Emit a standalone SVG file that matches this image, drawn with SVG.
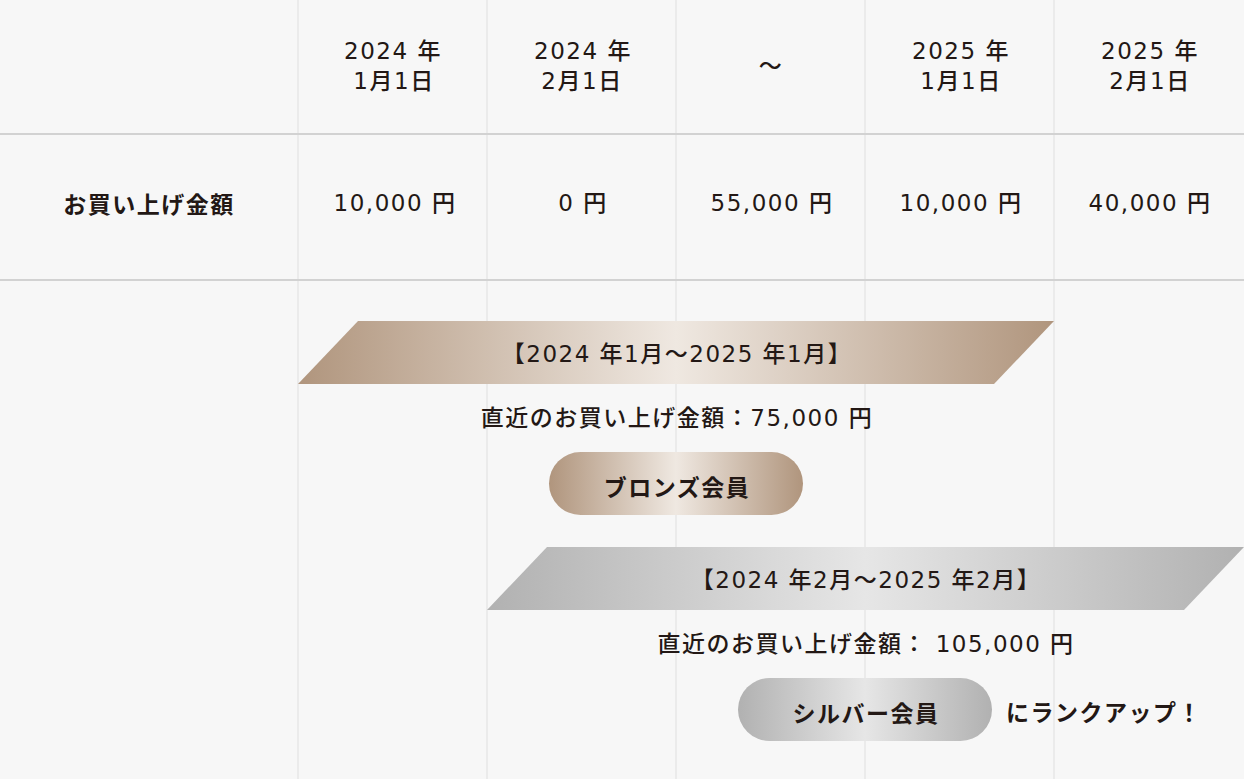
<svg xmlns="http://www.w3.org/2000/svg" width="1244" height="779" viewBox="0 0 1244 779">
<defs>
<linearGradient id="bronze" x1="0" y1="0" x2="1" y2="0">
<stop offset="0" stop-color="#b0957d"/>
<stop offset="0.5" stop-color="#efe8e1"/>
<stop offset="1" stop-color="#b0957d"/>
</linearGradient>
<linearGradient id="silver" x1="0" y1="0" x2="1" y2="0">
<stop offset="0" stop-color="#b1b1b1"/>
<stop offset="0.5" stop-color="#e6e6e6"/>
<stop offset="1" stop-color="#b1b1b1"/>
</linearGradient>
<style>
.t{font-family:"DejaVu Sans","Noto Sans CJK JP",sans-serif;fill:#231815;font-size:23px;letter-spacing:1.5px;text-anchor:middle;dominant-baseline:central;font-weight:500}
.b{font-family:"Noto Sans CJK JP",sans-serif;font-weight:700}
.v{stroke:#ebebeb;stroke-width:2}
.h{stroke:#d2d2d2;stroke-width:2}
</style>
</defs>
<rect width="1244" height="779" fill="#f7f7f7"/>
<g id="grid">
<line class="v" x1="298" y1="0" x2="298" y2="779"/>
<line class="v" x1="487" y1="0" x2="487" y2="779"/>
<line class="v" x1="676" y1="0" x2="676" y2="779"/>
<line class="v" x1="865" y1="0" x2="865" y2="779"/>
<line class="v" x1="1054" y1="0" x2="1054" y2="779"/>
<line class="h" x1="0" y1="134" x2="1244" y2="134"/>
<line class="h" x1="0" y1="280" x2="1244" y2="280"/>
</g>
<g id="header">
<text class="t" x="393" y="51">2024 年</text><text class="t" x="394" y="81">1月1日</text>
<text class="t" x="583" y="51">2024 年</text><text class="t" x="582" y="81">2月1日</text>
<text class="t" x="771" y="66">～</text>
<text class="t" x="961" y="51">2025 年</text><text class="t" x="961" y="81">1月1日</text>
<text class="t" x="1150" y="51">2025 年</text><text class="t" x="1150" y="81">2月1日</text>
</g>
<g id="amounts">
<text class="t b" x="149" y="203">お買い上げ金額</text>
<text class="t" x="395" y="203">10,000 円</text>
<text class="t" x="583" y="203">0 円</text>
<text class="t" x="772" y="203">55,000 円</text>
<text class="t" x="961" y="203">10,000 円</text>
<text class="t" x="1150" y="203">40,000 円</text>
</g>
<g id="bronze-period">
<polygon points="358,321 1054,321 994,384 298,384" fill="url(#bronze)"/>
<text class="t" x="677" y="354">【2024 年1月〜2025 年1月】</text>
<text class="t" x="677" y="418">直近のお買い上げ金額：75,000 円</text>
</g>
<g id="bronze-member">
<rect x="549" y="452" width="254" height="63" rx="31.5" fill="url(#bronze)"/>
<text class="t b" x="677" y="486">ブロンズ会員</text>
</g>
<g id="silver-period">
<polygon points="547,547 1244,547 1184,610 487,610" fill="url(#silver)"/>
<text class="t" x="866" y="580">【2024 年2月〜2025 年2月】</text>
<text class="t" x="866" y="644">直近のお買い上げ金額： 105,000 円</text>
</g>
<g id="silver-member">
<rect x="738" y="678" width="254" height="63" rx="31.5" fill="url(#silver)"/>
<text class="t b" x="866" y="712">シルバー会員</text>
<text class="t b" x="1104" y="711">にランクアップ！</text>
</g>
</svg>
